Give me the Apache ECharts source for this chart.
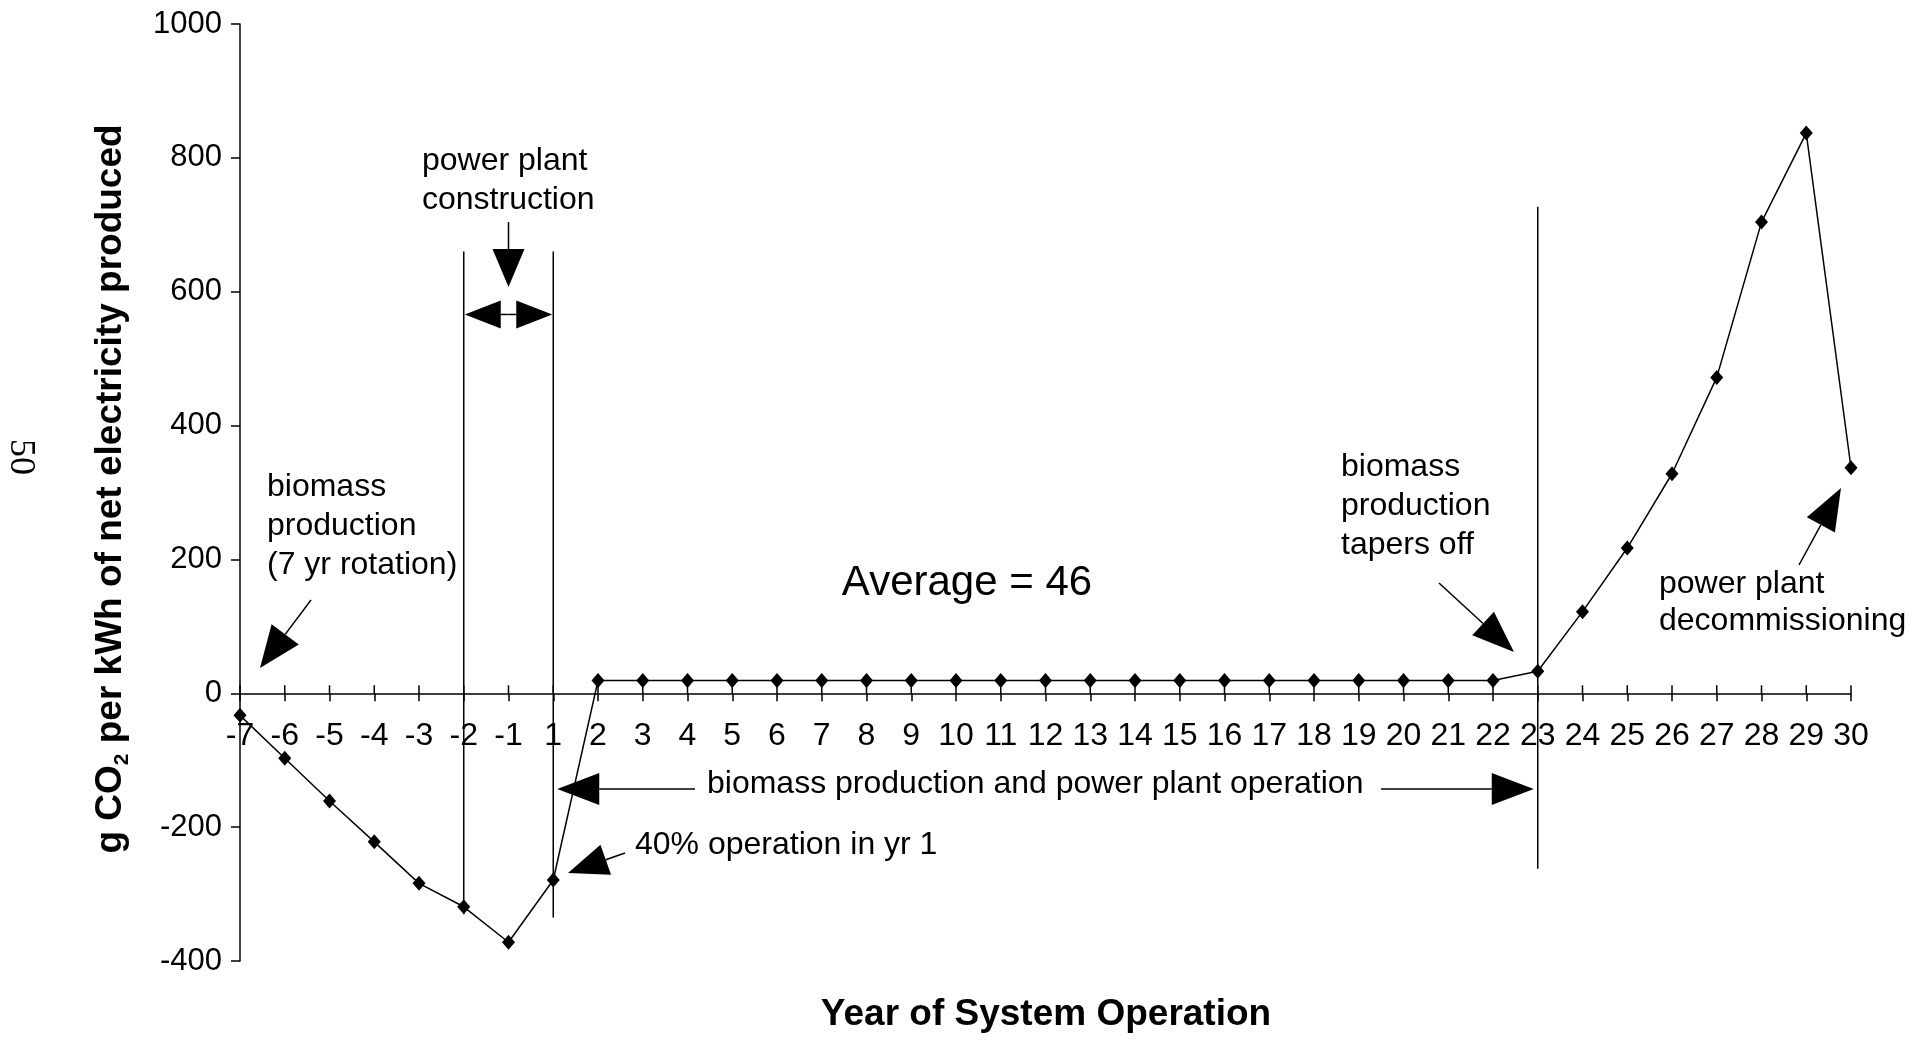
<!DOCTYPE html>
<html><head><meta charset="utf-8">
<script src="https://cdn.jsdelivr.net/npm/echarts@6/dist/echarts.min.js"></script>
<style>html,body{margin:0;padding:0;background:#fff}#c{width:1912px;height:1045px}</style>
</head><body><div id="c"></div>
<script>
// ---- data ----
const years = ['-7','-6','-5','-4','-3','-2','-1','1','2','3','4','5','6','7','8','9','10','11','12','13','14','15','16','17','18','19','20','21','22','23','24','25','26','27','28','29','30'];
const co2 = [-33,-97,-161,-222,-284,-319,-372,-279,19,19,19,19,19,19,19,19,19,19,19,19,19,19,19,19,19,19,19,19,19,33,122,217,328,472,704,837,337];
const yMin = -400, yMax = 1000, yStep = 200;

const SANS = "'Liberation Sans',Arial,Helvetica,sans-serif";
const BLACK = '#000';

const chart = echarts.init(document.getElementById('c'), null, {renderer:'canvas'});
const tickStyle = {color: BLACK, width: 1.5};
chart.setOption({
  animation: false,
  backgroundColor: '#fff',
  grid: {left: 240, right: 61, top: 24, bottom: 84, containLabel: false},
  xAxis: {
    type: 'category', data: years, boundaryGap: false,
    axisLine: {show: true, onZero: true, lineStyle: {color: BLACK, width: 1.5}},
    axisTick: {show: true, inside: false, length: 8, lineStyle: tickStyle},
    axisLabel: {show: true, interval: 0, margin: 27, color: BLACK, fontSize: 32, fontFamily: SANS},
    splitLine: {show: false}
  },
  yAxis: {
    type: 'value', min: yMin, max: yMax, interval: yStep,
    axisLine: {show: true, onZero: false, lineStyle: {color: BLACK, width: 1.5}},
    axisTick: {show: true, length: 9, lineStyle: tickStyle},
    axisLabel: {margin: 18, color: BLACK, fontSize: 31, fontFamily: SANS, formatter: v => String(v)},
    splitLine: {show: false}
  },
  series: [{
    type: 'line', data: co2,
    symbol: 'diamond', symbolSize: [13, 15],
    itemStyle: {color: BLACK},
    lineStyle: {color: BLACK, width: 1.5},
    z: 5
  }]
});

// ---- annotations ----
const X = c => chart.convertToPixel({xAxisIndex: 0}, c);
const Y = v => chart.convertToPixel({yAxisIndex: 0}, v);

// keep the category labels right under the zero line (v6 keeps them at the grid edge)
const gridBottom = Y(yMin), y0 = Y(0);
chart.setOption({xAxis: {axisLabel: {margin: 27 - (gridBottom - y0)}}});

function arrow(x1, y1, x2, y2, len, w) {
  const dx = x2 - x1, dy = y2 - y1, d = Math.hypot(dx, dy), ux = dx / d, uy = dy / d;
  const bx = x2 - ux * len, by = y2 - uy * len;
  const px = -uy * w / 2, py = ux * w / 2;
  return [
    {type: 'line', shape: {x1: x1, y1: y1, x2: bx, y2: by}, style: {stroke: BLACK, lineWidth: 1.5}, z: 10},
    {type: 'polygon', shape: {points: [[x2, y2], [bx + px, by + py], [bx - px, by - py]]}, style: {fill: BLACK}, z: 10}
  ];
}
function txt(x, y, text, size, align, extra) {
  return Object.assign({
    type: 'text', x: x, y: y, z: 10,
    style: {text: text, fill: BLACK, fontSize: size, fontFamily: SANS, align: align, verticalAlign: 'middle'}
  }, extra || {});
}
function vline(c, v1, v2) {
  const x = X(c);
  return {type: 'line', shape: {x1: x, y1: Y(v1), x2: x, y2: Y(v2)}, style: {stroke: BLACK, lineWidth: 1.5}, z: 4};
}

const xm2 = X('-2'), x1 = X('1'), x23 = X('23');
const g = [];

// upper halves of the crossing x-axis ticks
years.forEach(c => {
  const x = X(c);
  g.push({type: 'line', shape: {x1: x, y1: y0, x2: x, y2: y0 - 8}, style: {stroke: BLACK, lineWidth: 1.5}, z: 3});
});

g.push(vline('-2', 660, -330), vline('1', 660, -335), vline('23', 727, -262));

// power plant construction
g.push(txt(422, 161, 'power plant', 32, 'left'), txt(422, 200, 'construction', 32, 'left'));
const xmid = (xm2 + x1) / 2;
g.push(...arrow(xmid, 222, xmid, 287, 38, 32));
const yd = Y(566);
g.push(...arrow(xmid, yd, xm2 + 1, yd, 36, 28));
g.push(...arrow(xmid, yd, x1 - 1, yd, 36, 28));

// biomass production (7 yr rotation)
g.push(txt(267, 487, 'biomass', 32, 'left'), txt(267, 526, 'production', 32, 'left'), txt(267, 565, '(7 yr rotation)', 32, 'left'));
g.push(...arrow(311, 600, 260, 668, 42, 34));

// Average
g.push(txt(967, 583, 'Average = 46', 42, 'center'));

// operation span
g.push(txt(707, 784, 'biomass production and power plant operation', 32, 'left'));
g.push(...arrow(695, 789, x1 + 4, 789, 42, 32));
g.push(...arrow(1381, 789, x23 - 4, 789, 42, 32));

// 40% operation
g.push(txt(635, 845, '40% operation in yr 1', 32, 'left'));
g.push(...arrow(625, 853, 568, 873, 40, 32));

// tapers off
g.push(txt(1341, 467, 'biomass', 32, 'left'), txt(1341, 506, 'production', 32, 'left'), txt(1341, 545, 'tapers off', 32, 'left'));
g.push(...arrow(1439, 583, 1514, 652, 42, 32));

// decommissioning
g.push(txt(1659, 584, 'power plant', 32, 'left'), txt(1659, 621, 'decommissioning', 32, 'left'));
g.push(...arrow(1799, 565, 1841, 488, 42, 32));

// page number
g.push({type: 'text', x: 20, y: 457, rotation: -Math.PI / 2, z: 10,
  style: {text: '50', fill: BLACK, fontSize: 36, fontFamily: "'Liberation Serif','Times New Roman',serif", align: 'center', verticalAlign: 'middle'}});

// axis names
g.push({type: 'text', x: 111, y: 489, rotation: Math.PI / 2, z: 10,
  style: {text: '{a|g CO}{s|2}{a| per kWh of net electricity produced}', align: 'center', verticalAlign: 'middle', fill: BLACK,
    rich: {a: {fontSize: 37, fontWeight: 'bold', fontFamily: SANS, fill: BLACK, lineHeight: 44},
           s: {fontSize: 21, fontWeight: 'bold', fontFamily: SANS, fill: BLACK, verticalAlign: 'bottom', lineHeight: 30}}}});
g.push({type: 'text', x: 1046, y: 1015, z: 10,
  style: {text: 'Year of System Operation', fill: BLACK, fontSize: 37, fontWeight: 'bold', fontFamily: SANS, align: 'center', verticalAlign: 'middle'}});

chart.setOption({graphic: g});
</script>
</body></html>
